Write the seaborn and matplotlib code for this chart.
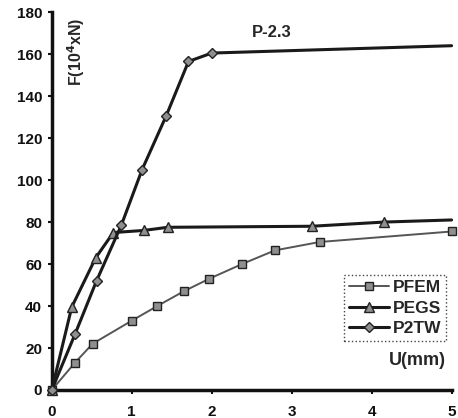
import seaborn as sns
import matplotlib.pyplot as plt
import pandas as pd

# displacement U (mm) and load F (10^4 x N)
pfem_u = [0, 0.29, 0.51, 1.0, 1.32, 1.65, 1.97, 2.38, 2.79, 3.35, 5.0]
pfem_f = [0, 13, 22, 33, 40, 47, 53, 60, 66.5, 70.5, 75.5]

pegs_u = [0, 0.25, 0.55, 0.77, 1.15, 1.45, 3.25, 4.16, 5.0]
pegs_f = [0, 39.5, 63, 75, 76, 77.5, 78, 80, 81]

p2tw_u = [0, 0.29, 0.56, 0.87, 1.13, 1.43, 1.71, 2.0, 5.0]
p2tw_f = [0, 26.5, 52, 78.5, 105, 130.5, 156.5, 160.5, 164]

sns.set_style("ticks")
plt.rcParams['font.family'] = ['Liberation Sans', 'DejaVu Sans']
plt.rcParams['font.weight'] = 'bold'

fig = plt.figure(figsize=(4.58, 4.18), dpi=100)
ax = fig.add_axes([0.113, 0.067, 0.873, 0.904])

# last point of PEGS / P2TW carries no marker in the original
series = [
    ("PFEM", pfem_u, pfem_f, "s", "#555555", 1.4, 6.0, None),
    ("PEGS", pegs_u, pegs_f, "^", "#1a1a1a", 2.2, 6.5, slice(0, -1)),
    ("P2TW", p2tw_u, p2tw_f, "D", "#1a1a1a", 2.2, 5.0, slice(0, -1)),
]
for name, u, f, mk, lc, lw, ms, every in series:
    df = pd.DataFrame({"U": u, "F": f})
    sns.lineplot(data=df, x="U", y="F", ax=ax, label=name, color=lc,
                 linewidth=lw, marker=mk, markersize=ms, markevery=every,
                 markerfacecolor="#8f8f8f", markeredgecolor="#222222",
                 markeredgewidth=1.0, clip_on=False, zorder=3)

ax.set_xlim(0, 5)
ax.set_ylim(0, 180)
ax.set_xticks(range(0, 6))
ax.set_yticks(range(0, 181, 20))
ax.set_xlabel("")
ax.set_ylabel("")
sns.despine(ax=ax)
for s in ("left", "bottom"):
    ax.spines[s].set_linewidth(2.5)
    ax.spines[s].set_color("#111111")
ax.tick_params(axis="y", labelsize=11, width=1.5, length=3,
               colors="#111111", pad=4)
ax.tick_params(axis="x", labelsize=11, width=1.5, length=3,
               colors="#111111", pad=8)
for lab in ax.get_xticklabels() + ax.get_yticklabels():
    lab.set_fontweight("bold")

ax.text(0.035, 0.985, "F(10$^4$xN)", transform=ax.transAxes, rotation=90,
        ha="left", va="top", fontsize=11.5, fontweight="bold")
ax.text(0.55, 0.965, "P-2.3", transform=ax.transAxes, ha="center",
        va="top", fontsize=12, fontweight="bold")
ax.text(0.985, 0.055, "U(mm)", transform=ax.transAxes, ha="right",
        va="bottom", fontsize=13, fontweight="bold")

leg = ax.legend(loc="lower right", bbox_to_anchor=(0.995, 0.12),
                fontsize=12.5, handlelength=2.3, handletextpad=0.2,
                borderpad=0.3, labelspacing=0.3, borderaxespad=0.2,
                fancybox=False, framealpha=1)
leg.get_frame().set_edgecolor("#444444")
leg.get_frame().set_linestyle(":")
leg.get_frame().set_linewidth(1.0)
for t in leg.get_texts():
    t.set_fontweight("bold")

fig.savefig("out.png", dpi=100)
